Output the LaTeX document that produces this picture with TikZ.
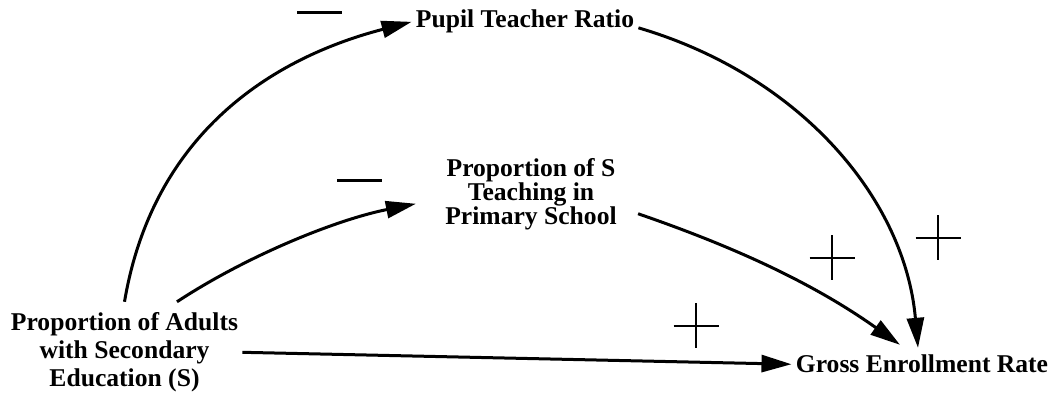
\documentclass[tikz,border=0pt]{standalone}
\usepackage{fontspec}
\setmainfont{Liberation Serif}
\usetikzlibrary{arrows.meta}

\begin{document}
\begin{tikzpicture}[
  x=0.5pt, y=-0.5pt,
  >={Triangle[length=15pt,width=8.5pt]},
  var/.style={align=center, inner sep=2pt, anchor=base,
              font=\bfseries\fontsize{12.8}{14.2}\selectfont},
  flow/.style={->, line width=1.5pt},
  possign/.pic={\draw[line width=1pt] (-22.5,0) -- (22.5,0) (0,-22.5) -- (0,22.5);},
  negsign/.pic={\draw[line width=1.5pt] (-22.5,0) -- (22.5,0);}
]
  \useasboundingbox (0,0) rectangle (1055,394);

  \node[var] (ptr) at (525,28) {Pupil Teacher Ratio};
  \node[var, font=\bfseries\fontsize{12.8}{12}\selectfont] (props) at (531,225) {Proportion of S\\Teaching in\\Primary School};
  \node[var] (adults) at (124.5,387) {Proportion of Adults\\with Secondary\\Education (S)};
  \node[var] (ger) at (922,373) {Gross Enrollment Rate};

  \draw[flow] ([shift={(0,-6)}]adults.north) .. controls +(27,-160) and +(-150,39) .. (ptr.west);
  \draw[flow] ([shift={(0,6)}]ptr.east) .. controls +(163,48) and +(-13,-148) .. ([shift={(-4,-3)}]ger.north);
  \draw[flow] ([shift={(52.5,-6)}]adults.north) .. controls +(70,-46) and +(-80,16) .. ([shift={(-25,9)}]props.west);
  \draw[flow] ([shift={(17,19)}]props.east) .. controls +(90,31) and +(-90,-64) .. ([shift={(-22,-6)}]ger.north);
  \draw[flow] (adults.east) -- (ger.west);

  \pic at (319.5,13) {negsign};
  \pic at (359.5,181) {negsign};
  \pic at (696,326) {possign};
  \pic at (832,258) {possign};
  \pic at (938,238) {possign};
\end{tikzpicture}
\end{document}
